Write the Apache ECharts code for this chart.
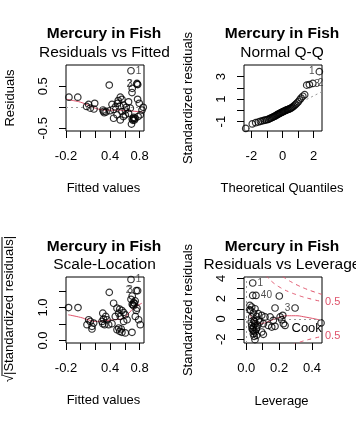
<!DOCTYPE html>
<html><head><meta charset="utf-8">
<script src="https://cdn.jsdelivr.net/npm/echarts@6/dist/echarts.min.js"></script>
<style>html,body{margin:0;padding:0;background:#fff}#c{width:356px;height:425px}</style>
</head><body><div id="c"></div>
<script>
// ---------- Data ----------
const mainTitle = 'Mercury in Fish';
const panelTitles = ['Residuals vs Fitted', 'Normal Q-Q', 'Scale-Location', 'Residuals vs Leverage'];

// Panel 1: Residuals vs Fitted
const rvfFitted = [0.683,0.765,0.765,0.775,0.388,0.697,0.70,-0.16,-0.04,0.107,0.13,0.19,0.18,0.303,0.32,0.344,0.425,0.447,0.47,0.50,0.51,0.538,0.56,0.53,0.583,0.606,0.493,0.447,0.538,0.606,0.65,0.674,0.72,0.73,0.71,0.74,0.72,0.70,0.81,0.833,0.796,0.773,0.85,0.65,0.62,0.56,0.40,0.31,0.08,0.69,0.78,0.58];
const rvfResid = [0.87,0.57,0.55,0.54,0.53,0.35,0.45,0.24,0.24,0.07,-0.02,0.095,-0.04,-0.065,-0.13,-0.11,0.07,-0.05,0.01,0.095,0.16,0.24,0.19,0.03,0.05,-0.065,-0.18,-0.26,-0.30,-0.18,-0.14,-0.02,-0.27,-0.30,-0.31,-0.26,-0.24,-0.28,-0.18,-0.065,0.095,0.19,0.0,0.13,0.0,-0.10,-0.08,-0.10,0.02,-0.40,-0.22,-0.22];
const rvfSmoothX = [-0.19,-0.1,0.0,0.1,0.18,0.3,0.4,0.5,0.6,0.7,0.84];
const rvfSmoothY = [0.19,0.16,0.12,0.05,-0.01,-0.06,-0.068,-0.068,-0.075,-0.09,-0.11];
const rvfIds = ['1','2','3'];

// Panel 2: Normal Q-Q
const qqTheo = [-2.36,-1.94,-1.72,-1.55,-1.42,-1.30,-1.19,-1.10,-1.01,-0.93,-0.85,-0.78,-0.71,-0.64,-0.58,-0.52,-0.46,-0.40,-0.34,-0.29,-0.23,-0.18,-0.12,-0.07,-0.02,0.02,0.07,0.12,0.18,0.23,0.29,0.34,0.40,0.46,0.52,0.58,0.64,0.71,0.78,0.85,0.93,1.01,1.10,1.19,1.30,1.42,1.55,1.72,1.94,2.36];
const qqStd = [-1.60,-1.20,-1.09,-1.03,-0.97,-0.93,-0.89,-0.85,-0.83,-0.80,-0.75,-0.70,-0.66,-0.61,-0.57,-0.53,-0.49,-0.44,-0.38,-0.34,-0.30,-0.26,-0.22,-0.19,-0.15,-0.12,-0.08,-0.05,-0.02,0.02,0.05,0.08,0.11,0.15,0.19,0.23,0.30,0.37,0.46,0.55,0.66,0.77,0.94,1.10,1.26,1.40,2.25,2.30,2.40,3.45];
const qqLineX = [-2.47, 2.53];
const qqLineY = [-1.82, 1.67];

// Panel 3: Scale-Location
const slFitted = [0.683,0.773,0.755,0.70,0.74,0.388,0.683,-0.165,-0.037,0.71,0.72,0.70,0.73,0.72,0.447,0.493,0.53,0.56,0.583,0.516,0.538,0.47,0.606,0.63,0.583,0.108,0.13,0.085,0.153,0.176,0.153,0.30,0.34,0.31,0.357,0.289,0.325,0.30,0.38,0.425,0.493,0.53,0.56,0.606,0.516,0.55,0.697,0.742,0.787,0.81,0.765,0.755];
const slSqrt = [1.85,1.51,1.51,1.35,1.2,1.46,1.25,1.0,1.0,1.08,1.05,1.10,1.12,1.15,1.13,0.98,0.95,0.91,0.85,0.83,0.73,0.73,0.78,0.63,0.58,0.63,0.58,0.48,0.43,0.53,0.35,0.83,0.73,0.65,0.63,0.58,0.48,0.51,0.48,0.51,0.33,0.28,0.25,0.23,0.38,0.35,0.25,0.73,0.63,0.48,0.98,0.91];
const slSmoothX = [-0.17,0.0,0.1,0.2,0.3,0.4,0.5,0.58,0.65,0.72,0.83];
const slSmoothY = [0.78,0.70,0.63,0.58,0.59,0.62,0.64,0.68,0.82,0.98,1.13];

// Panel 4: Residuals vs Leverage
const levH = [0.039,0.039,0.059,0.201,0.175,0.297,0.022,0.033,0.027,0.053,0.043,0.073,0.094,0.114,0.063,0.033,0.043,0.073,0.083,0.104,0.053,0.033,0.043,0.063,0.039,0.053,0.043,0.063,0.053,0.094,0.104,0.145,0.165,0.134,0.155,0.175,0.206,0.216,0.226,0.236,0.222,0.455,0.03,0.05,0.035,0.048,0.02,0.06,0.045,0.07];
const levR = [3.54,2.32,2.32,2.26,1.08,1.08,1.34,1.18,0.85,1.01,0.59,0.52,0.36,0.2,0.26,0.2,-0.13,-0.13,-0.29,-0.46,-0.46,-0.63,-0.79,-0.85,-1.05,-1.28,-1.45,-1.61,-2.03,-1.28,-1.51,0.2,-0.13,-0.63,-0.79,-0.72,0.2,-0.07,-0.46,-0.63,0.36,-0.39,-0.3,-0.2,-0.95,-1.7,0.9,-1.0,-1.2,-0.6];
const levSmoothX = [0.02,0.035,0.05,0.065,0.08,0.1,0.13,0.16,0.2,0.25,0.3,0.35,0.45];
const levSmoothY = [0.45,0.1,-0.2,-0.38,-0.43,-0.42,-0.28,-0.08,0.15,0.32,0.32,0.22,-0.1];
const levIds = ['1','40','3'];
const cookLevels = [0.5, 1];
const cookHalfH = [0.12,0.13,0.14,0.16,0.18,0.20,0.23,0.26,0.30,0.35,0.40,0.46];
const cookHalfR = [4.28,4.09,3.92,3.62,3.37,3.16,2.89,2.67,2.42,2.15,1.94,1.71];
const cookHalfLowR = [-4.28,-4.09,-3.92,-3.62,-3.37,-3.16,-2.89,-2.67,-2.42,-2.15,-1.94,-1.71];
const cookOneH = [0.22,0.23,0.25,0.28,0.32,0.36,0.40,0.46];
const cookOneR = [4.21,4.09,3.87,3.59,3.26,2.98,2.74,2.42];

// Tick values and labels
const fitTicks = [-0.2,0,0.2,0.4,0.6,0.8];
const fitLabels = [-0.2,0.4,0.8];
const residTicks = [-0.5,0,0.5];
const residLabels = [-0.5,0.5];
const qqXTicks = [-2,-1,0,1,2];
const qqXLabels = [-2,0,2];
const qqYTicks = [-1,0,1,2,3];
const qqYLabels = [-1,1,3];
const slYTicks = [0,0.5,1.0,1.5];
const slYLabels = [0,1.0];
const levXTicks = [0,0.1,0.2,0.3,0.4];
const levXLabels = [0,0.2,0.4];
const levYTicks = [-2,-1,0,1,2,3,4];
const levYLabels = [-2,0,2,4];

// ---------- Chart ----------
const FONT = '"Liberation Sans", Arial, Helvetica, sans-serif';
const RED = '#DF536B';
const zip = (a, b) => a.map((v, i) => [v, b[i]]);
const f1 = v => Number(v).toFixed(1);
const f0 = v => String(Math.round(v));

const grids = [
  {left: 66, top: 65, width: 78, height: 66},
  {left: 244, top: 65, width: 78, height: 66},
  {left: 66, top: 277, width: 78, height: 66},
  {left: 244, top: 277, width: 78, height: 66}
].map(g => Object.assign(g, {show: true, borderColor: '#000', borderWidth: 1, backgroundColor: 'transparent', containLabel: false}));

function xAx(gi, min, max, ticks, labels, fmt) {
  return {type: 'value', gridIndex: gi, min, max,
    axisLine: {show: false, onZero: false}, splitLine: {show: false},
    axisTick: {show: true, inside: false, length: 7, customValues: ticks, lineStyle: {color: '#000', width: 1}},
    axisLabel: {customValues: labels, formatter: fmt, margin: 19, color: '#000', fontSize: 13, fontFamily: FONT}};
}
function yAx(gi, min, max, ticks, labels, fmt) {
  return {type: 'value', gridIndex: gi, min, max,
    axisLine: {show: false, onZero: false}, splitLine: {show: false},
    axisTick: {show: true, inside: false, length: 7, customValues: ticks, lineStyle: {color: '#000', width: 1}},
    axisLabel: {customValues: labels, formatter: fmt, rotate: 90, margin: 16, color: '#000', fontSize: 13, fontFamily: FONT}};
}

const pointStyle = {color: 'rgba(0,0,0,0)', borderColor: '#000', borderWidth: 1.2};
function idLabel(text, pos) {
  return {show: true, formatter: text, position: pos, distance: 1, fontSize: 10, color: '#222', fontFamily: FONT};
}
function pts(xs, ys, ids) {
  return xs.map((x, i) => {
    const it = {value: [x, ys[i]]};
    if (ids[i]) it.label = idLabel(ids[i][0], ids[i][1]);
    return it;
  });
}
function scatter(i, data, markLines) {
  const s = {type: 'scatter', xAxisIndex: i, yAxisIndex: i, data, symbol: 'circle', symbolSize: 6.5,
    itemStyle: pointStyle, clip: true, z: 3};
  if (markLines) s.markLine = {silent: true, symbol: ['none', 'none'], label: {show: false},
    lineStyle: {color: '#9a9a9a', type: [2, 3], width: 1}, data: markLines, animation: false};
  return s;
}
function line(i, xs, ys, color, type, z) {
  return {type: 'line', xAxisIndex: i, yAxisIndex: i, data: zip(xs, ys), showSymbol: false, symbol: 'none',
    smooth: true, clip: true, lineStyle: {color, width: 1, type}, z: z || 2};
}

// label sides for identified points
const p1Ids = {0: [rvfIds[0], 'right'], 2: [rvfIds[1], 'left'], 3: [rvfIds[2], 'left']};
const p2Ids = {49: [rvfIds[0], 'left'], 48: [rvfIds[1], 'right'], 47: [rvfIds[2], 'right']};
const p3Ids = {0: [rvfIds[0], 'right'], 2: [rvfIds[1], 'left'], 1: [rvfIds[2], 'left']};
const p4Ids = {0: [levIds[0], 'right'], 2: [levIds[1], 'right'], 5: [levIds[2], 'left']};

const yAxes = [
  yAx(0, -0.564, 1.007, residTicks, residLabels, f1),
  yAx(1, -1.83, 4.04, qqYTicks, qqYLabels, f0),
  yAx(2, -0.074, 1.925, slYTicks, slYLabels, f1),
  yAx(3, -2.36, 4.13, levYTicks, levYLabels, f0),
  {type: 'value', gridIndex: 3, position: 'right', min: -2.36, max: 4.13,
    axisLine: {show: false, onZero: false}, axisTick: {show: false}, splitLine: {show: false},
    axisLabel: {customValues: [cookHalfLowR[cookHalfLowR.length - 1], cookHalfR[cookHalfR.length - 1]],
      formatter: () => f1(cookLevels[0]), margin: 3, color: RED, fontSize: 11, fontFamily: FONT}}
];

const option = {
  animation: false,
  backgroundColor: '#fff',
  grid: grids,
  xAxis: [
    xAx(0, -0.2, 0.86, fitTicks, fitLabels, f1),
    xAx(1, -2.47, 2.53, qqXTicks, qqXLabels, f0),
    xAx(2, -0.2, 0.86, fitTicks, fitLabels, f1),
    xAx(3, -0.014, 0.461, levXTicks, levXLabels, f1)
  ],
  yAxis: yAxes,
  series: [
    scatter(0, pts(rvfFitted, rvfResid, p1Ids), [{yAxis: 0}]),
    line(0, rvfSmoothX, rvfSmoothY, RED, 'solid'),
    scatter(1, pts(qqTheo, qqStd, p2Ids)),
    line(1, qqLineX, qqLineY, '#9a9a9a', [2, 3]),
    scatter(2, pts(slFitted, slSqrt, p3Ids)),
    line(2, slSmoothX, slSmoothY, RED, 'solid'),
    scatter(3, pts(levH, levR, p4Ids), [{yAxis: 0}, {xAxis: 0}]),
    line(3, levSmoothX, levSmoothY, RED, 'solid'),
    line(3, cookHalfH, cookHalfR, RED, [4, 4]),
    line(3, cookHalfH, cookHalfLowR, RED, [4, 4]),
    line(3, cookOneH, cookOneR, RED, [4, 4])
  ],
  graphic: []
};

function txt(x, y, text, font, rot) {
  return {type: 'text', x, y, rotation: rot || 0, silent: true,
    style: {text, font, fill: '#000', textAlign: 'center', textVerticalAlign: 'middle', align: 'center', verticalAlign: 'middle'}};
}
const boldF = 'bold 15.5px ' + FONT, subF = '15.5px ' + FONT, labF = '13px ' + FONT;
const R90 = Math.PI / 2;
option.graphic = [
  txt(104, 34, mainTitle, boldF), txt(104.5, 53, panelTitles[0], subF),
  txt(282, 34, mainTitle, boldF), txt(282, 53, panelTitles[1], subF),
  txt(104, 247, mainTitle, boldF), txt(104.5, 265, panelTitles[2], subF),
  txt(282, 247, mainTitle, boldF), txt(282, 265, panelTitles[3], subF),
  txt(103.5, 188, 'Fitted values', labF), txt(282, 188, 'Theoretical Quantiles', labF),
  txt(103.5, 400, 'Fitted values', labF), txt(281.5, 401, 'Leverage', labF),
  txt(10, 98, 'Residuals', labF, R90), txt(188, 98, 'Standardized residuals', labF, R90),
  txt(9.5, 309, '\u221A|Standardized residuals|', labF, R90), txt(188, 310, 'Standardized residuals', labF, R90),
  {type: 'line', silent: true, shape: {x1: 2, y1: 237, x2: 2, y2: 376}, style: {stroke: '#000', lineWidth: 1}},
  {type: 'text', x: 291.5, y: 328, silent: true, z: 10,
    style: {text: 'Cook', font: labF, fill: '#000', textAlign: 'left', textVerticalAlign: 'middle', align: 'left', verticalAlign: 'middle'}}
];

const chart = echarts.init(document.getElementById('c'), null, {renderer: 'canvas'});
chart.setOption(option);
</script>
</body></html>
